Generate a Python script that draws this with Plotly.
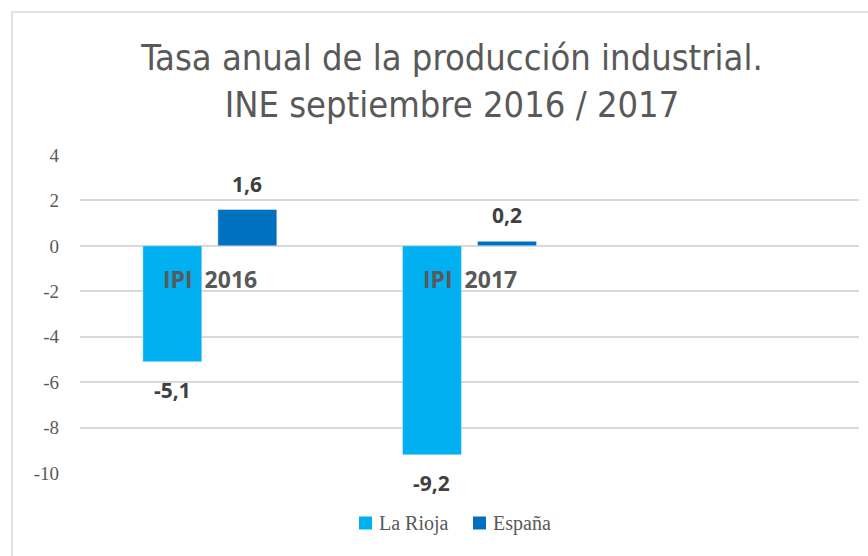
import plotly.graph_objects as go

categories = ["IPI\u00a0\u00a02016", "IPI\u00a0\u00a02017"]
la_rioja = [-5.1, -9.2]
espana = [1.6, 0.2]
series_names = ["La Rioja", "España"]
series_colors = ["#00B0F0", "#0070C0"]
y_ticks = [4, 2, 0, -2, -4, -6, -8, -10]

W, H = 868, 556
L, R, T, B = 80, 9, 155, 83
pw, ph = W - L - R, H - T - B


def px(x):
    return (x - L) / pw


def py(y):
    return (H - B - y) / ph


x_pos = list(range(len(categories)))
BAR_W = 0.227
OFFS = [-0.258, 0.031]

fig = go.Figure()
for vals, name, color, off in [(la_rioja, series_names[0], series_colors[0], OFFS[0]),
                               (espana, series_names[1], series_colors[1], OFFS[1])]:
    fig.add_trace(go.Bar(x=x_pos, y=vals, name=name, marker_color=color,
                         width=BAR_W, offset=off, cliponaxis=False, showlegend=False))
    for i, v in enumerate(vals):
        fig.add_annotation(x=x_pos[i] + off + BAR_W / 2, y=v, xref="x", yref="y",
                           text="<b>" + f"{v:.1f}".replace(".", ",") + "</b>",
                           showarrow=False, yanchor="middle",
                           yshift=26 if v >= 0 else -28,
                           font=dict(family="Open Sans, DejaVu Sans, sans-serif", size=21, color="#404040"))

for i, c in enumerate(categories):
    fig.add_annotation(x=x_pos[i], y=0, xref="x", yref="y", text="<b>" + c + "</b>",
                       showarrow=False, yanchor="middle", yshift=-33,
                       font=dict(family="Open Sans, DejaVu Sans, sans-serif", size=23, color="#595959"))

# custom legend (square swatch + label)
legend_x = [359, 473]
for name, color, lx in zip(series_names, series_colors, legend_x):
    fig.add_shape(type="rect", xref="paper", yref="paper",
                  x0=px(lx), x1=px(lx + 13), y0=py(529.5), y1=py(516.5),
                  line=dict(width=0), fillcolor=color)
    fig.add_annotation(x=px(lx + 18), y=py(523), xref="paper", yref="paper",
                       text=name, showarrow=False, xanchor="left", yanchor="middle",
                       font=dict(family="'Liberation Serif', 'Times New Roman', serif", size=20, color="#595959"))

fig.add_shape(type="rect", xref="paper", yref="paper",
              x0=px(12), x1=px(W + 10), y0=py(H + 10), y1=py(12),
              line=dict(color="#D9D9D9", width=1.5), fillcolor="rgba(0,0,0,0)", layer="below")

fig.update_layout(
    width=W, height=H,
    margin=dict(l=L, r=R, t=T, b=B),
    paper_bgcolor="white", plot_bgcolor="white",
    separators=",.",
    showlegend=False,
    title=dict(text="Tasa anual de la producción industrial.<br>INE septiembre 2016 / 2017",
               x=452 / W, xanchor="center", y=1 - 70 / H, yanchor="middle",
               font=dict(family="'Liberation Sans Narrow', 'Arial Narrow', 'DejaVu Sans Condensed', 'Open Sans', sans-serif",
                         size=36, color="#595959")),
    xaxis=dict(range=[-0.5, 2.5], showticklabels=False, showgrid=False, zeroline=False,
               showline=False, ticks=""),
    yaxis=dict(range=[-10, 4], tickvals=y_ticks, ticktext=[str(v) for v in y_ticks],
               showgrid=True, gridcolor="#D9D9D9", gridwidth=1.5, zeroline=False,
               showline=False, ticks="", ticklabelstandoff=20,
               tickfont=dict(family="'Liberation Serif', 'Times New Roman', serif", size=19, color="#595959")),
)

fig.write_html("out.html", config={"displayModeBar": False},
               post_script="document.body.style.margin='0';")
